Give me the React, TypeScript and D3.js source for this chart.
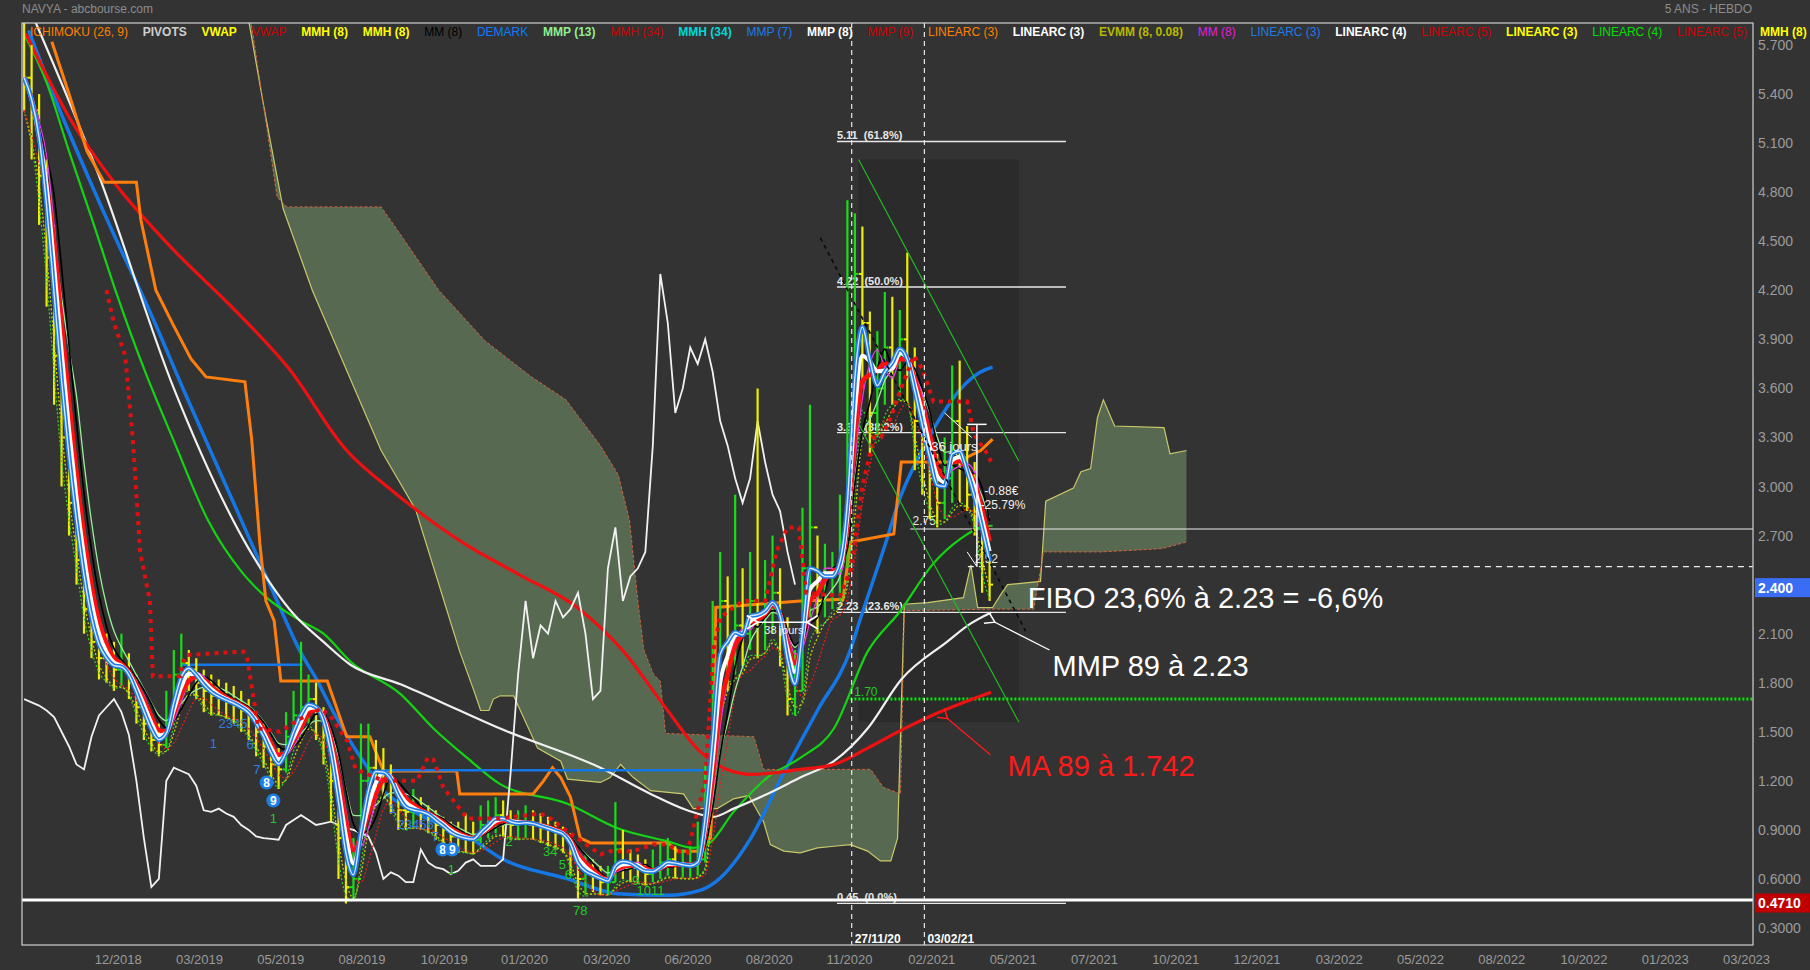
import React, { useEffect, useRef } from "react";
import * as d3 from "d3";

const W = 1810;
const H = 970;

// ---------- DATA (weekly bars, week 0 = 2018-10-15) ----------
const weekStart = "2018-10-15";
const closes = [5.50,5.30,4.90,4.40,3.80,3.30,2.90,2.55,2.25,2.05,
 1.95,1.92,1.88,1.90,1.80,1.65,1.55,1.45,1.42,1.55,
 1.85,1.92,1.88,1.80,1.75,1.72,1.70,1.68,1.66,1.63,
 1.59,1.50,1.41,1.30,1.27,1.47,1.60,1.65,1.70,1.62,
 1.48,1.20,0.85,0.55,0.60,1.20,1.28,1.26,1.24,1.17,
 1.02,1.01,1.03,1.00,0.98,0.93,0.90,0.86,0.85,0.845,
 0.84,0.93,0.96,0.99,0.96,0.93,0.94,0.95,0.93,0.91,
 0.90,0.88,0.86,0.76,0.60,0.64,0.62,0.58,0.58,0.78,
 0.70,0.67,0.66,0.63,0.65,0.70,0.72,0.68,0.68,0.68,
 0.72,1.25,1.85,2.30,1.95,2.15,2.10,2.30,2.20,2.25,
 2.35,2.10,1.70,1.75,2.50,2.75,2.30,2.45,2.50,2.60,
 3.25,4.30,4.00,3.45,3.60,3.85,3.75,3.90,3.70,3.40,
 3.25,3.05,2.90,3.05,3.40,3.15,2.95,2.85,2.60,2.40];
const highs = [5.85,5.70,5.40,5.00,4.60,4.00,3.40,3.00,2.65,2.35,
 2.15,2.10,2.05,2.10,1.98,1.85,1.72,1.60,1.55,1.75,
 2.00,2.10,2.00,1.95,1.88,1.85,1.82,1.80,1.78,1.75,
 1.70,1.62,1.55,1.42,1.40,1.62,1.75,2.05,1.85,1.80,
 1.65,1.40,1.05,0.80,0.85,1.55,1.55,1.45,1.40,1.30,
 1.15,1.10,1.15,1.10,1.05,1.02,0.98,0.95,0.95,1.00,
 0.95,1.05,1.08,1.10,1.08,1.02,1.02,1.05,1.02,1.00,
 0.98,0.95,0.92,0.88,0.72,0.75,0.72,0.68,0.68,1.07,
 0.90,0.78,0.75,0.72,0.78,0.82,0.85,0.80,0.78,0.80,
 0.95,1.30,2.30,2.60,2.45,2.95,2.50,2.60,3.60,2.55,
 2.70,2.50,2.20,2.00,2.87,3.50,2.70,2.65,2.60,2.95,
 4.75,4.67,4.59,4.07,3.95,4.19,4.16,4.08,4.43,3.85,
 3.60,3.35,3.20,3.30,3.74,3.77,3.37,3.15,2.75,2.55];
const lows = [5.30,5.00,4.60,4.10,3.50,3.00,2.70,2.40,2.10,1.95,
 1.82,1.80,1.75,1.78,1.70,1.55,1.45,1.38,1.35,1.40,
 1.60,1.75,1.75,1.70,1.62,1.60,1.60,1.58,1.55,1.50,
 1.45,1.35,1.28,1.18,1.15,1.25,1.45,1.50,1.55,1.45,
 1.30,0.95,0.60,0.45,0.47,0.80,1.10,1.10,1.10,1.00,
 0.90,0.90,0.92,0.90,0.88,0.84,0.80,0.78,0.76,0.76,
 0.75,0.82,0.85,0.88,0.86,0.84,0.84,0.85,0.84,0.82,
 0.80,0.78,0.76,0.62,0.48,0.50,0.52,0.50,0.50,0.58,
 0.60,0.58,0.57,0.56,0.58,0.60,0.62,0.60,0.60,0.60,
 0.62,0.70,1.45,1.90,1.75,1.85,1.90,2.00,1.95,2.00,
 2.10,1.90,1.60,1.60,1.75,2.20,2.10,2.20,2.25,2.30,
 2.50,3.20,3.60,3.20,3.30,3.50,3.50,3.55,3.50,3.10,
 2.95,2.80,2.75,2.80,2.90,2.90,2.85,2.70,2.35,2.30];

// long indicators: [week, value]
const ma89Red = [[0.2,5.77],[6,5.26],[12.2,4.85],[19.9,4.45],[27.7,4.10],[35.4,3.72],[43.1,3.22],[49.3,2.97],[58.5,2.66],[66.2,2.46],[73.9,2.26],[80.1,1.99],[85.5,1.66],[90.3,1.38],[93.9,1.27],[97.3,1.24],[103.7,1.27],[108.2,1.30],[112.7,1.40],[117.2,1.51],[121.8,1.61],[129.2,1.742]];
const mmp89White = [[0,6.0],[10,4.9],[20,3.6],[30,2.62],[36,2.22],[40,2.05],[43.6,1.91],[50.3,1.79],[58.2,1.63],[63.6,1.52],[77,1.28],[83.7,1.12],[88.6,1.02],[92.1,0.98],[94.8,1.03],[99.3,1.12],[103.7,1.22],[108.2,1.32],[112.7,1.52],[117.2,1.82],[123.3,2.05],[126.4,2.16],[129.2,2.23]];
const greenMA = [[0.2,5.75],[3,5.47],[6,5.05],[9.1,4.63],[12.2,4.20],[16.1,3.71],[19.9,3.29],[24.6,2.79],[29.2,2.47],[32.4,2.32],[36.9,2.18],[40,2.10],[43.6,1.93],[50.3,1.73],[54.7,1.52],[59.2,1.34],[63.6,1.18],[72.6,1.06],[79.3,0.91],[86,0.83],[89.4,0.79],[91.3,0.81],[94.8,1.01],[99.3,1.22],[103.7,1.34],[108.2,1.52],[112.7,1.99],[117.1,2.24],[121.5,2.53],[125.1,2.68],[127.8,2.75],[129.4,2.76]];
const blueLong = [[0.6,5.79],[4.5,5.33],[8.4,4.91],[12.2,4.52],[16.9,4.06],[21.5,3.57],[27.7,2.93],[33.8,2.30],[36.9,1.99],[39.2,1.81],[41.2,1.63],[43.6,1.44],[45.9,1.28],[48,1.14],[50.3,1.06],[54.7,0.95],[59.3,0.86],[63.6,0.73],[72.6,0.60],[79.3,0.51],[86,0.50],[90.3,0.53],[92.6,0.59],[97.1,0.85],[101.4,1.24],[106,1.63],[110.4,2.0],[111.8,2.2],[114.8,2.61],[117.2,2.95],[119.3,3.16],[122.4,3.42],[125.2,3.60],[127.8,3.70],[129.4,3.73]];
const kijunOrange = [[3.7,5.72],[6,5.40],[8.4,5.05],[10.7,4.86],[15,4.86],[15.6,4.63],[17.6,4.20],[19.9,3.99],[22.3,3.78],[24.3,3.67],[29.5,3.64],[30.4,3.29],[31.5,2.65],[32.3,2.30],[33.4,2.18],[34.3,1.81],[40.5,1.81],[43.1,1.47],[46.2,1.47],[48,1.26],[57.8,1.26],[58.2,1.12],[68,1.12],[69.4,1.20],[70.6,1.28],[71.7,1.22],[73,1.10],[74.3,0.85],[75.7,0.82],[86,0.82],[87.3,0.77],[90,0.77],[91.7,0.85],[92.1,1.18],[92.4,2.26],[103.7,2.30],[109.4,2.31],[110.4,2.66],[116.2,2.71],[117.2,3.15],[124.7,3.15],[127.8,3.22],[129.4,3.29]];
const redDotted = [[11,4.2],[12,4.0],[13.5,3.8],[14.5,3.3],[15.5,2.6],[16.8,2.3],[17.2,1.84],[20.9,1.84],[21.1,1.92],[21.8,1.97],[29.3,1.99],[29.8,1.95],[31.3,1.52],[34.2,1.50],[36.9,1.58],[39.6,1.64],[40.9,1.60],[43.2,1.44],[44.3,1.27],[48,1.2],[52.5,1.2],[53.9,1.34],[54.7,1.33],[56,1.16],[59.2,0.97],[63.6,0.97],[69,1.0],[70.3,0.97],[72.6,0.89],[77,0.75],[78.3,0.77],[81.4,0.77],[84,0.81],[86,0.81],[87.3,0.77],[88.6,0.76],[91,1.2],[92.1,2.0],[93,2.2],[96,2.3],[99,2.3],[100.5,2.6],[102,2.75],[103.5,2.75],[104.5,2.35],[109,2.33],[110.5,2.5],[112,3.0],[113.5,3.3],[114.5,3.3],[115.8,3.42],[117,3.58],[118.9,3.8],[120,3.72],[121.5,3.52],[126,3.52],[126.9,3.32],[128.7,3.2],[129.4,3.13]];
const cloudSpanA = [[30,5.85],[32,5.33],[34.6,4.70],[38.5,4.20],[43.1,3.71],[47.7,3.22],[52.3,2.86],[56.1,2.30],[58.2,1.99],[60.1,1.75],[61,1.63],[62.1,1.63],[62.7,1.70],[63.6,1.72],[65.4,1.72],[68.6,1.40],[71.7,1.32],[72.6,1.21],[77,1.19],[78.3,1.22],[79.7,1.30],[81.4,1.22],[83.7,1.14],[88.1,1.12],[89.4,1.03],[92.6,1.03],[94.8,1.09],[96.8,1.11],[98.8,0.95],[99.7,0.81],[101.5,0.77],[103.7,0.76],[106,0.79],[108.2,0.80],[110.4,0.81],[112.7,0.77],[114.4,0.71],[115.8,0.71],[116.7,0.85],[117.6,2.28],[120.7,2.29],[125.5,2.32],[126.5,2.52],[127.4,2.26],[129.4,2.26],[130.5,2.34],[131.4,2.40],[135.8,2.42],[136.5,2.91],[140.2,2.99],[141.2,3.09],[142.5,3.11],[143.4,3.42],[144.2,3.53],[145.7,3.37],[152.3,3.36],[153.1,3.2],[155.3,3.22]];
const cloudSpanB = [[30.3,5.85],[33.8,4.77],[35.1,4.71],[47.7,4.71],[50,4.56],[55.4,4.20],[61.6,3.89],[67.8,3.67],[72.4,3.53],[74.7,3.39],[77,3.25],[79.4,3.07],[80.9,2.79],[82,2.30],[82.8,2.0],[84.1,1.85],[85,1.81],[85.7,1.49],[97.5,1.47],[98.8,1.27],[113.1,1.27],[114.8,1.16],[117.1,1.12],[117.6,2.24],[129.1,2.25],[134.9,2.25],[136.2,2.60],[143.9,2.60],[152,2.62],[155.3,2.66]];

// DeMark levels & counts
const demarkLevels = [[21, 37.2, 1.91], [48, 91.7, 1.265]];
const demarkBlueText = [[25.3,1.43,"1"],[27.9,1.55,"2345"],[30.2,1.42,"6"],[31.1,1.27,"7"],[49.2,1.03,"1"],[52.3,0.93,"23456"],[54.9,0.86,"7"]];
const demarkCircles = [[32.4,1.19,"8"],[33.3,1.08,"9"],[55.9,0.78,"8"],[57.2,0.78,"9"]];
const demarkGreenText = [[33.3,0.97,"1"],[57.1,0.66,"1"],[64.8,0.83,"2"],[70.3,0.77,"34"],[71.9,0.69,"5"],[72.7,0.63,"6"],[74.3,0.41,"78"],[81.7,0.59,"9"],[83.7,0.53,"1011"]];

// Fibonacci retracement
const fibLevels = [5.11, 4.22, 3.33, 2.23, 0.45];
const fibPct = ["61.8%", "50.0%", "38.2%", "23.6%", "0.0%"];
const fibWeeks = [108.6, 139.2];

// trend tools
const channelUpper = [[111.5, 5.0], [132.9, 3.156]];
const channelLower = [[111.5, 3.382], [132.9, 1.56]];
const blackDashed = [[106.4, 4.52], [133.8, 2.116]];
const markerDates = ["2020-11-27", "2021-02-03"];
const markerLabels = ["27/11/20", "03/02/21"];

// axis
const priceTicks = [5.7,5.4,5.1,4.8,4.5,4.2,3.9,3.6,3.3,3.0,2.7,2.4,2.1,1.8,1.5,1.2,0.9,0.6,0.3];
const dateTickDates = ["2019-01-11","2019-03-28","2019-06-12","2019-08-27","2019-11-12","2020-01-26","2020-04-12","2020-06-27","2020-09-11","2020-11-25","2021-02-10","2021-04-27","2021-07-12","2021-09-26","2021-12-11","2022-02-26","2022-05-13","2022-07-28","2022-10-13","2022-12-28","2023-03-14"];
const dateTickLabels = ["12/2018","03/2019","05/2019","08/2019","10/2019","01/2020","03/2020","06/2020","08/2020","11/2020","02/2021","05/2021","07/2021","10/2021","12/2021","03/2022","05/2022","08/2022","10/2022","01/2023","03/2023"];

const legendLabels = ["ICHIMOKU (26, 9)","PIVOTS","VWAP","VWAP","MMH (8)","MMH (8)","MM (8)","DEMARK","MMP (13)","MMH (34)","MMH (34)","MMP (7)","MMP (8)","MMP (9)","LINEARC (3)","LINEARC (3)","EVMM (8, 0.08)","MM (8)","LINEARC (3)","LINEARC (4)","LINEARC (5)","LINEARC (3)","LINEARC (4)","LINEARC (5)"];
const legendColors = ["#ff8000","#cfcfcf","#ffff00","#d00000","#ffff00","#ffff00","#000000","#0a7cff","#90ee90","#d00000","#00d8d8","#1e7be8","#ffffff","#d00000","#ff8000","#ffffff","#b8b800","#e020e0","#1e7be8","#ffffff","#d00000","#ffff00","#00e000","#d00000"];
const legendBold = [false,true,true,false,true,true,false,false,true,false,true,false,true,false,false,true,true,false,false,true,false,true,false,false];

const lastPrice = 2.4;
const lowLevel = 0.471;
const level275 = 2.74;
const level252 = 2.51;
const level170 = 1.70;

const FONT = "'Liberation Sans', Arial, Helvetica, sans-serif";

function wma(arr, n) {
  return arr.map((_, i) => {
    const m = Math.min(n, i + 1);
    let s = 0, w = 0;
    for (let k = 0; k < m; k++) { s += (m - k) * arr[i - k]; w += m - k; }
    return s / w;
  });
}
function sma(arr, n) {
  return arr.map((_, i) => {
    const m = Math.min(n, i + 1);
    let s = 0;
    for (let k = 0; k < m; k++) s += arr[i - k];
    return s / m;
  });
}

function draw(svgEl) {
  const svg = d3.select(svgEl);
  svg.selectAll("*").remove();
  const parse = d3.timeParse("%Y-%m-%d");
  const t0 = parse(weekStart).getTime();
  const wd = (i) => new Date(t0 + i * 7 * 86400000);
  const x = d3.scaleTime().domain([parse("2018-10-13"), parse("2023-03-20")]).range([22, 1753]);
  const y = d3.scaleLinear().domain([0.3, 5.7]).range([928, 45]);
  const X = (i) => x(wd(i));

  svg.append("rect").attr("width", W).attr("height", H).attr("fill", "#333333");
  const defs = svg.append("defs");
  defs.append("clipPath").attr("id", "plotclip").append("rect").attr("x", 22).attr("y", 23).attr("width", 1731).attr("height", 922);
  const mk = (id, color) => defs.append("marker").attr("id", id).attr("viewBox", "0 0 10 10").attr("refX", 1).attr("refY", 5)
    .attr("markerWidth", 9).attr("markerHeight", 9).attr("orient", "auto-start-reverse")
    .append("path").attr("d", "M9,0 L1,5 L9,10").attr("fill", "none").attr("stroke", color).attr("stroke-width", 1.3);
  mk("arrW", "#ffffff");
  mk("arrR", "#ff1a1a");

  const g = svg.append("g").attr("clip-path", "url(#plotclip)");
  const lineSmooth = d3.line().x((d) => X(d[0])).y((d) => y(d[1])).curve(d3.curveMonotoneX);
  const lineLin = d3.line().x((d) => X(d[0])).y((d) => y(d[1]));
  const seriesLine = (vals, from = 0) => vals.map((v, i) => [i, v]).slice(from);

  // dark zone of the linear regression channel
  g.append("rect").attr("x", X(channelUpper[0][0])).attr("y", y(channelUpper[0][1]))
    .attr("width", X(channelUpper[1][0]) - X(channelUpper[0][0]))
    .attr("height", y(channelLower[1][1]) - y(channelUpper[0][1])).attr("fill", "#2b2b2b");

  // Ichimoku cloud
  const poly = cloudSpanA.map((d) => [X(d[0]), y(d[1])]).concat(cloudSpanB.slice().reverse().map((d) => [X(d[0]), y(d[1])]));
  g.append("path").attr("d", d3.line()(poly) + "Z").attr("fill", "#5b6d54").attr("fill-opacity", 0.95);
  g.append("path").datum(cloudSpanA).attr("d", lineLin).attr("fill", "none").attr("stroke", "#c9c96a").attr("stroke-width", 1.2);
  g.append("path").datum(cloudSpanB).attr("d", lineLin).attr("fill", "none").attr("stroke", "#d2643c").attr("stroke-width", 1).attr("stroke-dasharray", "3,2");

  // Fibonacci
  fibLevels.forEach((lv, k) => {
    g.append("line").attr("x1", X(fibWeeks[0])).attr("x2", X(fibWeeks[1])).attr("y1", y(lv)).attr("y2", y(lv))
      .attr("stroke", "#e8e8e8").attr("stroke-width", 1.3);
    g.append("text").attr("x", X(fibWeeks[0])).attr("y", y(lv) - 2).text(`${lv.toFixed(2)}  (${fibPct[k]})`)
      .attr("fill", "#e8e8e8").attr("font-family", FONT).attr("font-size", 11).attr("font-weight", "bold").style("white-space", "pre");
  });

  // horizontal levels
  g.append("line").attr("x1", X(118.4)).attr("x2", 1753).attr("y1", y(level275)).attr("y2", y(level275)).attr("stroke", "#eeeeee").attr("stroke-width", 1.2);
  g.append("line").attr("x1", X(126.1)).attr("x2", 1753).attr("y1", y(level252)).attr("y2", y(level252)).attr("stroke", "#eeeeee").attr("stroke-width", 1.2).attr("stroke-dasharray", "6,5");
  g.append("line").attr("x1", X(110.4)).attr("x2", 1753).attr("y1", y(level170)).attr("y2", y(level170)).attr("stroke", "#00ee00").attr("stroke-width", 3).attr("stroke-dasharray", "2,2");
  g.append("text").attr("x", X(110.9)).attr("y", y(level170) - 3).text("1.70").attr("fill", "#22cc22").attr("font-family", FONT).attr("font-size", 12);
  g.append("text").attr("x", X(118.7)).attr("y", y(level275) - 4).text("2.75").attr("fill", "#e8e8e8").attr("font-family", FONT).attr("font-size", 12);
  g.append("text").attr("x", X(127.0)).attr("y", y(level252) - 4).text("2.52").attr("fill", "#e8e8e8").attr("font-family", FONT).attr("font-size", 12);

  // long moving averages
  g.append("path").datum(blueLong).attr("d", lineSmooth).attr("fill", "none").attr("stroke", "#1577e6").attr("stroke-width", 3.5);
  g.append("path").datum(greenMA).attr("d", lineSmooth).attr("fill", "none").attr("stroke", "#14d414").attr("stroke-width", 2.2);
  g.append("path").datum(mmp89White).attr("d", lineSmooth).attr("fill", "none").attr("stroke", "#f0f0f0").attr("stroke-width", 2.2);
  g.append("path").datum(ma89Red).attr("d", lineSmooth).attr("fill", "none").attr("stroke", "#ee1111").attr("stroke-width", 3.2);
  g.append("path").datum(kijunOrange).attr("d", lineLin).attr("fill", "none").attr("stroke", "#ff7f0e").attr("stroke-width", 3);

  // DeMark levels
  demarkLevels.forEach((d) => {
    g.append("line").attr("x1", X(d[0])).attr("x2", X(d[1])).attr("y1", y(d[2])).attr("y2", y(d[2])).attr("stroke", "#1577e6").attr("stroke-width", 2.5);
  });

  // Chikou span (close shifted back 26 weeks)
  const chikou = closes.map((c, i) => [i - 26, c]).filter((d) => d[0] >= 0);
  g.append("path").datum(chikou).attr("d", lineLin).attr("fill", "none").attr("stroke", "#f2f2f2").attr("stroke-width", 1.8);

  // price bars
  closes.forEach((c, i) => {
    const open = i === 0 ? highs[0] : closes[i - 1];
    const col = c >= open ? "#19dd19" : "#eeee00";
    const xx = X(i);
    g.append("line").attr("x1", xx).attr("x2", xx).attr("y1", y(highs[i])).attr("y2", y(lows[i])).attr("stroke", col).attr("stroke-width", 2.2);
    g.append("line").attr("x1", xx - 3.5).attr("x2", xx).attr("y1", y(open)).attr("y2", y(open)).attr("stroke", col).attr("stroke-width", 2);
    g.append("line").attr("x1", xx).attr("x2", xx + 3.5).attr("y1", y(c)).attr("y2", y(c)).attr("stroke", col).attr("stroke-width", 2);
  });

  // dotted lines on lows
  const dl = (vals, color) => g.append("path").datum(seriesLine(vals)).attr("d", lineSmooth).attr("fill", "none").attr("stroke", color).attr("stroke-width", 1.3).attr("stroke-dasharray", "2,2");
  dl(wma(lows, 2), "#33cc33");
  dl(wma(lows, 3), "#cccc00");
  dl(sma(lows, 4), "#e02020");

  // short averages band
  const band = (vals, color, w) => g.append("path").datum(seriesLine(vals)).attr("d", lineSmooth).attr("fill", "none").attr("stroke", color).attr("stroke-width", w);
  band(wma(closes, 8), "#98ee98", 1.3);
  band(sma(closes, 5), "#000000", 1.6);
  band(sma(closes, 4), "#e040e0", 1.3);
  band(wma(closes, 5), "#ff1010", 4.5);
  band(wma(closes, 4), "#ffffff", 4);
  band(wma(closes, 3), "#1e7be8", 4.6);
  band(wma(closes, 3), "#d8e8ff", 1.4);

  // red dotted MMH
  g.append("path").datum(redDotted).attr("d", lineLin).attr("fill", "none").attr("stroke", "#e01010").attr("stroke-width", 4).attr("stroke-dasharray", "4,5");

  // trend lines
  g.append("path").datum(channelUpper).attr("d", lineLin).attr("stroke", "#22bb22").attr("stroke-width", 1.2).attr("fill", "none");
  g.append("path").datum(channelLower).attr("d", lineLin).attr("stroke", "#22bb22").attr("stroke-width", 1.2).attr("fill", "none");
  g.append("path").datum(blackDashed).attr("d", lineLin).attr("stroke", "#0a0a0a").attr("stroke-width", 1.6).attr("stroke-dasharray", "4,4").attr("fill", "none");

  // vertical date markers
  markerDates.forEach((d, k) => {
    const xx = x(parse(d));
    g.append("line").attr("x1", xx).attr("x2", xx).attr("y1", 23).attr("y2", 945).attr("stroke", "#e6e6e6").attr("stroke-width", 1.2).attr("stroke-dasharray", "5,4");
    g.append("text").attr("x", xx + 3).attr("y", 943).text(markerLabels[k]).attr("fill", "#ffffff").attr("font-family", FONT).attr("font-size", 12).attr("font-weight", "bold");
  });

  // DeMark counts
  demarkBlueText.forEach((d) => {
    g.append("text").attr("x", X(d[0])).attr("y", y(d[1])).text(d[2]).attr("text-anchor", "middle").attr("dominant-baseline", "central")
      .attr("fill", "#2f7fe0").attr("font-family", FONT).attr("font-size", 13);
  });
  demarkCircles.forEach((d) => {
    g.append("circle").attr("cx", X(d[0])).attr("cy", y(d[1])).attr("r", 7).attr("fill", "#1a7fe6");
    g.append("text").attr("x", X(d[0])).attr("y", y(d[1]) + 0.5).text(d[2]).attr("text-anchor", "middle").attr("dominant-baseline", "central")
      .attr("fill", "#ffffff").attr("font-family", FONT).attr("font-size", 12).attr("font-weight", "bold");
  });
  demarkGreenText.forEach((d) => {
    g.append("text").attr("x", X(d[0])).attr("y", y(d[1])).text(d[2]).attr("text-anchor", "middle").attr("dominant-baseline", "central")
      .attr("fill", "#22cc22").attr("font-family", FONT).attr("font-size", 13);
  });

  // measurement tools
  const mt = (t, i, v, size = 12) => g.append("text").attr("x", X(i)).attr("y", y(v)).text(t).attr("fill", "#f0f0f0").attr("font-family", FONT).attr("font-size", size);
  g.append("line").attr("x1", X(127.3)).attr("x2", X(127.3)).attr("y1", y(3.38)).attr("y2", y(level252)).attr("stroke", "#ffffff").attr("stroke-width", 1.5);
  g.append("line").attr("x1", X(126.0)).attr("x2", X(128.6)).attr("y1", y(3.38)).attr("y2", y(3.38)).attr("stroke", "#ffffff").attr("stroke-width", 1.5);
  g.append("line").attr("x1", X(123.0)).attr("x2", X(126.6)).attr("y1", y(3.45)).attr("y2", y(3.30)).attr("stroke", "#ffffff").attr("stroke-width", 1);
  g.append("line").attr("x1", X(126.0)).attr("x2", X(127.3)).attr("y1", y(2.60)).attr("y2", y(level252)).attr("stroke", "#ffffff").attr("stroke-width", 1);
  mt("36 jours", 121.2, 3.22, 13);
  mt("-0.88€", 128.3, 2.95, 12);
  mt("-25.79%", 127.8, 2.86, 12);
  g.append("line").attr("x1", X(98.0)).attr("x2", X(104.6)).attr("y1", y(2.17)).attr("y2", y(2.17)).attr("stroke", "#ffffff").attr("stroke-width", 1.5)
    .attr("marker-start", "url(#arrW)").attr("marker-end", "url(#arrW)");
  mt("38 jours", 98.9, 2.10, 11);

  // annotations
  const ann = (t, i, v, color) => g.append("text").attr("x", X(i)).attr("y", y(v)).text(t).attr("fill", color).attr("font-family", FONT).attr("font-size", 29);
  ann("FIBO 23,6% à 2.23 = -6,6%", 134.1, 2.257, "#ffffff");
  ann("MMP 89 à 2.23", 137.4, 1.84, "#ffffff");
  ann("MA 89 à 1.742", 131.4, 1.23, "#ff1a1a");
  g.append("line").attr("x1", X(137.0)).attr("y1", y(2.0)).attr("x2", X(129.7)).attr("y2", y(2.17)).attr("stroke", "#ffffff").attr("stroke-width", 1.3).attr("marker-end", "url(#arrW)");
  g.append("line").attr("x1", X(129.1)).attr("y1", y(1.36)).attr("x2", X(123.4)).attr("y2", y(1.58)).attr("stroke", "#ff1a1a").attr("stroke-width", 1.3).attr("marker-end", "url(#arrR)");

  // low line
  g.append("line").attr("x1", 22).attr("x2", 1753).attr("y1", y(lowLevel)).attr("y2", y(lowLevel)).attr("stroke", "#ffffff").attr("stroke-width", 3);

  // frame
  svg.append("rect").attr("x", 22).attr("y", 23).attr("width", 1731).attr("height", 922).attr("fill", "none").attr("stroke", "#d0d0d0").attr("stroke-width", 1.2);

  // title
  svg.append("text").attr("x", 22).attr("y", 13).text("NAVYA - abcbourse.com").attr("fill", "#8c8c8c").attr("font-family", FONT).attr("font-size", 12);
  svg.append("text").attr("x", 1752).attr("y", 13).attr("text-anchor", "end").text("5 ANS - HEBDO").attr("fill", "#8c8c8c").attr("font-family", FONT).attr("font-size", 12);

  // legend
  const lg = svg.append("g");
  const items = legendLabels.map((t, k) => lg.append("text").attr("y", 36).text(t).attr("fill", legendColors[k]).attr("font-family", FONT)
    .attr("font-size", 12).attr("font-weight", legendBold[k] ? "bold" : "normal"));
  const widths = items.map((s) => s.node().getComputedTextLength());
  const total = d3.sum(widths);
  const gap = (1747 - 30 - total) / (items.length - 1);
  let cx = 30;
  items.forEach((s, k) => { s.attr("x", cx); cx += widths[k] + gap; });
  svg.append("text").attr("x", 1760).attr("y", 36).text("MMH (8)").attr("fill", "#ffff00").attr("font-family", FONT).attr("font-size", 12).attr("font-weight", "bold");

  // price axis
  priceTicks.forEach((v) => {
    svg.append("text").attr("x", 1758).attr("y", y(v)).attr("dominant-baseline", "central").text(v >= 1 ? v.toFixed(3) : v.toFixed(4))
      .attr("fill", "#9c9c9c").attr("font-family", FONT).attr("font-size", 14);
  });
  const box = (v, color, label) => {
    svg.append("rect").attr("x", 1755).attr("y", y(v) - 6.5).attr("width", 55).attr("height", 19).attr("fill", color);
    svg.append("text").attr("x", 1758).attr("y", y(v) + 3).attr("dominant-baseline", "central").text(label)
      .attr("fill", "#ffffff").attr("font-family", FONT).attr("font-size", 14).attr("font-weight", "bold");
  };
  box(lastPrice, "#3a6cf4", lastPrice.toFixed(3));
  box(lowLevel, "#c00000", lowLevel.toFixed(4));

  // date axis
  dateTickDates.forEach((d, k) => {
    svg.append("text").attr("x", x(parse(d))).attr("y", 959).attr("text-anchor", "middle").attr("dominant-baseline", "central")
      .text(dateTickLabels[k]).attr("fill", "#9a9a9a").attr("font-family", FONT).attr("font-size", 13);
  });
}

export default function App() {
  const ref = useRef(null);
  useEffect(() => {
    document.body.style.margin = "0";
    draw(ref.current);
  }, []);
  return <svg ref={ref} width={W} height={H} style={{ position: "absolute", left: 0, top: 0, display: "block" }} />;
}
